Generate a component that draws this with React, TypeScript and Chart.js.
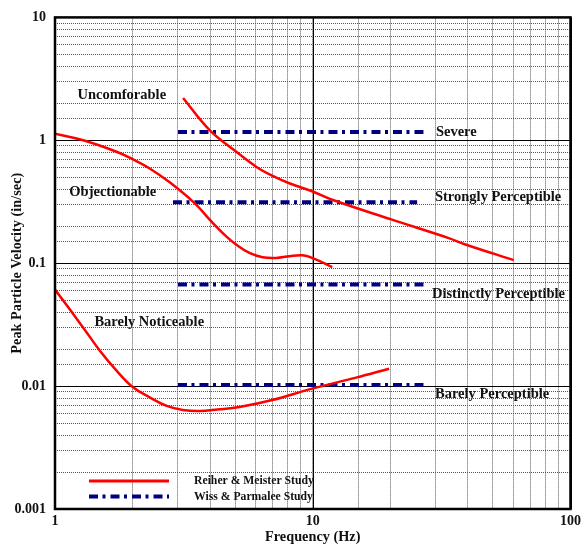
import React, { useEffect, useRef } from 'react';
import { Chart, registerables } from 'chart.js';

Chart.register(...registerables);

// Reiher & Meister Study curves (frequency in Hz, peak particle velocity in in/sec)
const reiherAFreq = [1, 1.287, 1.733, 2.008, 2.33, 2.786, 3.479, 4.04, 4.617, 5.045, 5.68, 6.39, 7.21, 8.11, 9.12, 10, 11.9];
const reiherAVel = [1.13, 1.0, 0.807, 0.7, 0.59, 0.455, 0.308, 0.219, 0.1654, 0.1417, 0.1212, 0.1118, 0.1103, 0.114, 0.116, 0.11, 0.093];
const reiherBFreq = [3.14, 3.98, 5.05, 6.03, 6.99, 8.11, 10, 11.9, 20.3, 33.7, 39.1, 60.2];
const reiherBVel = [2.21, 1.21, 0.807, 0.61, 0.513, 0.447, 0.383, 0.328, 0.226, 0.16, 0.142, 0.106];
const reiherCFreq = [1, 1.287, 1.493, 1.733, 2.008, 2.33, 2.713, 3.128, 3.64, 4.27, 5.196, 6.97, 9.95, 14.73, 19.77];
const reiherCVel = [0.061, 0.0299, 0.0194, 0.01336, 0.00977, 0.00811, 0.0069, 0.0064, 0.00627, 0.00645, 0.00676, 0.0077, 0.00954, 0.01172, 0.01386];

// Wiss & Parmalee Study levels
const wissLevels = ['Severe', 'Strongly Perceptible', 'Distinctly Perceptible', 'Barely Perceptible'];
const wissVel = [1.17, 0.314, 0.0672, 0.0102];
const wissStart = [3.0, 2.87, 3.0, 3.0];
const wissEnd = [27, 25.4, 27, 27];
const wissLabelFreq = [30.05, 29.8, 29.0, 29.8];
const wissLabelVel = [1.157, 0.344, 0.0564, 0.00865];

// Reiher & Meister zone labels
const zoneLabels = ['Uncomforable', 'Objectionable', 'Barely Noticeable'];
const zoneLabelFreq = [1.816, 1.676, 2.321];
const zoneLabelVel = [2.335, 0.376, 0.0329];

// Axis ticks
const xTickValues = [1, 10, 100];
const xTickText = ['1', '10', '100'];
const yTickValues = [0.001, 0.01, 0.1, 1, 10];
const yTickText = ['0.001', '0.01', '0.1', '1', '10'];

const seriesNames = ['Reiher & Meister Study', 'Wiss & Parmalee Study'];

const RED = '#ff0000';
const NAVY = '#000080';
const FONT = '"Liberation Serif", "Times New Roman", serif';
const BLUE_DASH = [9, 4.5, 3, 5];

const zip = (xs: number[], ys: number[]) => xs.map((x, i) => ({ x, y: ys[i] }));

const matchTick = (v: number, values: number[], texts: string[]) => {
  for (let i = 0; i < values.length; i++) {
    if (Math.abs(v - values[i]) / values[i] < 1e-6) return texts[i];
  }
  return '';
};

const overlayPlugin = {
  id: 'overlay',
  beforeDatasetsDraw(chart: any) {
    const { ctx, chartArea: a, scales } = chart;
    const x = scales.x;
    const y = scales.y;
    ctx.save();
    ctx.strokeStyle = '#000';
    ctx.lineWidth = 1;
    ctx.setLineDash([]);
    yTickValues.forEach((v) => {
      const py = Math.round(y.getPixelForValue(v)) + 0.5;
      ctx.beginPath();
      ctx.moveTo(a.left, py);
      ctx.lineTo(a.right, py);
      ctx.stroke();
    });
    xTickValues.forEach((v) => {
      const px = Math.round(x.getPixelForValue(v)) + 0.5;
      ctx.beginPath();
      ctx.moveTo(px, a.top);
      ctx.lineTo(px, a.bottom);
      ctx.stroke();
    });
    ctx.restore();
  },
  afterDatasetsDraw(chart: any) {
    const { ctx, chartArea: a, scales } = chart;
    const x = scales.x;
    const y = scales.y;
    ctx.save();
    ctx.fillStyle = '#111';
    ctx.font = `bold 14.5px ${FONT}`;
    ctx.textBaseline = 'middle';
    ctx.textAlign = 'center';
    zoneLabels.forEach((t, i) => {
      ctx.fillText(t, x.getPixelForValue(zoneLabelFreq[i]), y.getPixelForValue(zoneLabelVel[i]));
    });
    ctx.textAlign = 'left';
    wissLevels.forEach((t, i) => {
      ctx.fillText(t, x.getPixelForValue(wissLabelFreq[i]), y.getPixelForValue(wissLabelVel[i]));
    });

    // legend
    const ds = chart.data.datasets;
    const items = [ds[0], ds[3]];
    const lx1 = a.left + 34;
    const lx2 = a.left + 114;
    const rows = [a.bottom - 28, a.bottom - 12.5];
    items.forEach((d: any, i: number) => {
      ctx.save();
      ctx.strokeStyle = d.borderColor;
      ctx.lineWidth = i === 0 ? 3 : d.borderWidth;
      ctx.setLineDash(d.borderDash || []);
      ctx.beginPath();
      ctx.moveTo(lx1, rows[i]);
      ctx.lineTo(lx2, rows[i]);
      ctx.stroke();
      ctx.restore();
      ctx.font = `bold 11.7px ${FONT}`;
      ctx.fillStyle = '#111';
      ctx.textAlign = 'left';
      ctx.textBaseline = 'middle';
      ctx.fillText(seriesNames[i], a.left + 139, rows[i]);
    });

    // frame
    ctx.strokeStyle = '#000';
    ctx.lineWidth = 2.5;
    ctx.setLineDash([]);
    ctx.strokeRect(a.left, a.top, a.right - a.left, a.bottom - a.top);
    ctx.restore();
  },
};

export default function App() {
  const ref = useRef<HTMLCanvasElement | null>(null);

  useEffect(() => {
    if (!ref.current) return;
    const redStyle = {
      borderColor: RED,
      backgroundColor: RED,
      borderWidth: 2.5,
      pointRadius: 0,
      showLine: true,
      tension: 0.4,
      fill: false,
    };
    const datasets: any[] = [
      { label: seriesNames[0], data: zip(reiherAFreq, reiherAVel), ...redStyle },
      { label: seriesNames[0] + ' B', data: zip(reiherBFreq, reiherBVel), ...redStyle },
      { label: seriesNames[0] + ' C', data: zip(reiherCFreq, reiherCVel), ...redStyle },
      ...wissLevels.map((name, i) => ({
        label: name,
        data: [
          { x: wissStart[i], y: wissVel[i] },
          { x: wissEnd[i], y: wissVel[i] },
        ],
        borderColor: NAVY,
        backgroundColor: NAVY,
        borderWidth: 4,
        borderDash: BLUE_DASH,
        borderCapStyle: 'butt',
        pointRadius: 0,
        showLine: true,
        fill: false,
      })),
    ];

    const gridColor = '#555';
    const chart = new Chart(ref.current, {
      type: 'scatter',
      data: { datasets },
      plugins: [overlayPlugin],
      options: {
        animation: false,
        responsive: false,
        layout: { padding: { top: 15, right: 13, left: 0, bottom: 0 } },
        plugins: {
          legend: { display: false },
          tooltip: { enabled: false },
        },
        scales: {
          x: {
            type: 'logarithmic',
            min: 1,
            max: 100,
            afterFit: (s: any) => {
              s.height = 37;
            },
            grid: { color: gridColor, lineWidth: 1, drawTicks: false },
            border: { display: false, dash: [1, 1] },
            ticks: {
              autoSkip: false,
              maxRotation: 0,
              padding: 4,
              color: '#111',
              font: { family: FONT, size: 14, weight: 'bold' },
              callback: (v: any) => matchTick(Number(v), xTickValues, xTickText),
            },
            title: {
              display: true,
              text: 'Frequency (Hz)',
              color: '#111',
              font: { family: FONT, size: 14.3, weight: 'bold' },
              padding: { top: 0, bottom: 0 },
            },
          },
          y: {
            type: 'logarithmic',
            min: 0.001,
            max: 10,
            afterFit: (s: any) => {
              s.width = 55;
            },
            grid: { color: gridColor, lineWidth: 1, drawTicks: false },
            border: { display: false, dash: [1, 1] },
            ticks: {
              autoSkip: false,
              padding: 9,
              color: '#111',
              font: { family: FONT, size: 14, weight: 'bold' },
              callback: (v: any) => matchTick(Number(v), yTickValues, yTickText),
            },
            title: {
              display: true,
              text: 'Peak Particle Velocity (in/sec)',
              color: '#111',
              font: { family: FONT, size: 14.3, weight: 'bold' },
              padding: { top: 9, bottom: 0 },
            },
          },
        },
      } as any,
    });
    return () => chart.destroy();
  }, []);

  return (
    <div style={{ position: 'fixed', left: 0, top: 0, width: 585, height: 546, background: '#fff' }}>
      <canvas ref={ref} width={585} height={546} style={{ display: 'block' }} />
    </div>
  );
}
